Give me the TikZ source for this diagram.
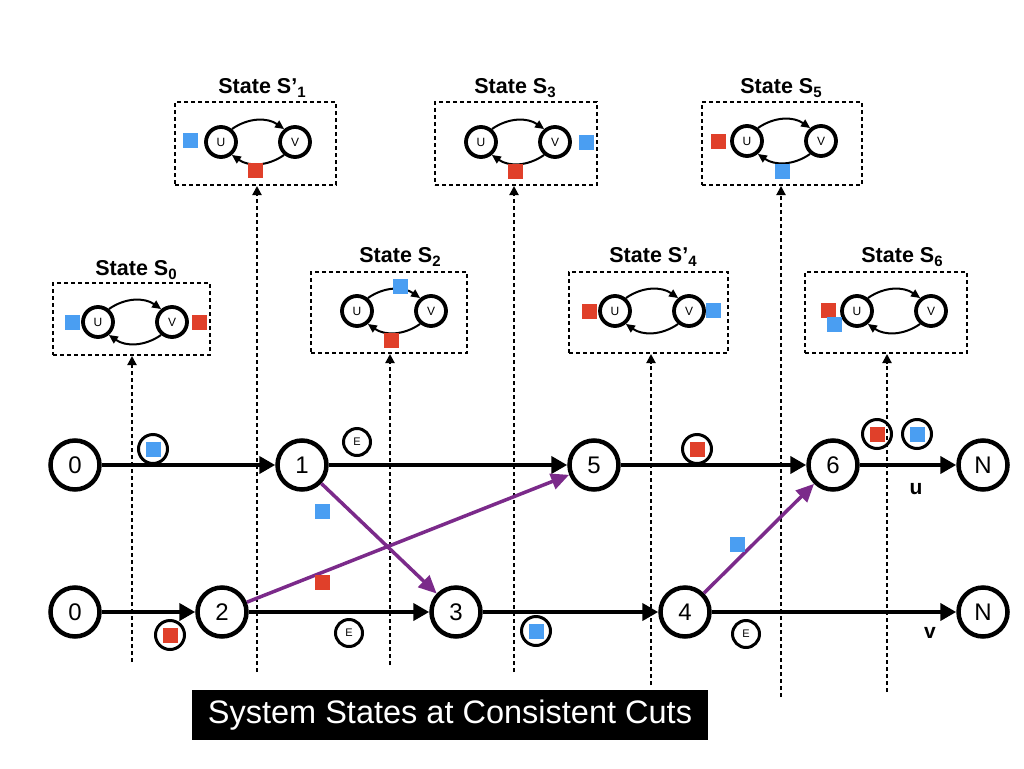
\documentclass[tikz,border=0pt]{standalone}
\usepackage{fontspec}
\setmainfont{Liberation Sans}
\usetikzlibrary{arrows.meta}
\definecolor{myblue}{HTML}{4A9EF2}
\definecolor{myred}{HTML}{E0402A}
\definecolor{mypurple}{HTML}{7B2A8A}
\tikzset{
  proc/.style={circle,draw,line width=4.5pt,minimum size=49pt,inner sep=0pt,font=\fontsize{24}{26}\selectfont},
  tl/.style={line width=4pt,-{Triangle[length=16pt,width=17pt]}},
  msgarrow/.style={draw=mypurple,line width=3.5pt,-{Triangle[length=18pt,width=16pt]}},
  mk/.style={circle,draw,line width=3pt,minimum size=29pt,inner sep=0pt},
  ecirc/.style={circle,draw,line width=3pt,minimum size=27pt,inner sep=0pt,font=\fontsize{11}{12}\selectfont},
  sqr/.style={fill=#1,minimum size=15pt,inner sep=0pt},
  sn/.style={circle,draw,line width=3.8pt,minimum size=30pt,inner sep=0pt,font=\fontsize{12}{13}\selectfont},
  sa/.style={line width=2pt,-{Triangle[length=9pt,width=8pt]}},
  stbox/.style={draw,line width=2pt,dash pattern=on 4pt off 3pt},
  cut/.style={line width=2pt,dash pattern=on 4pt off 3pt,-{Triangle[length=9pt,width=9pt]}},
  ttl/.style={font=\bfseries\fontsize{21.5}{24}\selectfont},
  lbl/.style={font=\bfseries\fontsize{21}{22}\selectfont}
}
\newcommand\sub[1]{\raisebox{-0.3ex}{\fontsize{15}{15}\selectfont #1}}
\newcommand\uvpair[3]{%
  \node[sn] (#1U) at (#2,#3) {U};
  \node[sn] (#1V) at ({#2+74},#3) {V};
  \draw[sa] (#1U.50) to[bend left=35] (#1V.130);
  \draw[sa] (#1V.230) to[bend left=35] (#1U.310);
}
\newcommand\mksq[1]{{\color{#1}\rule{15pt}{15pt}}}
\begin{document}
\begin{tikzpicture}[x=1pt,y=-1pt]
\useasboundingbox (0,0) rectangle (1024,768);
\fill[white] (0,0) rectangle (1024,768);

% ---- state boxes ----
\node[stbox,minimum width=157pt,minimum height=72pt] (b0) at (131.5,319) {};
\node[ttl] (t0) at (136,270) {State S\sub{0}};
\uvpair{s0}{98}{322}
\node[sqr=myblue] (s0b) at (72,322) {};
\node[sqr=myred] (s0r) at (199,322) {};

\node[stbox,minimum width=161pt,minimum height=83pt] (b1) at (255.5,143.5) {};
\node[ttl] (t1) at (262,88) {State S’\sub{1}};
\uvpair{s1}{221}{142}
\node[sqr=myblue] (s1b) at (190,140) {};
\node[sqr=myred] (s1r) at (255,170) {};

\node[stbox,minimum width=156pt,minimum height=81pt] (b2) at (389,312.5) {};
\node[ttl] (t2) at (400,257) {State S\sub{2}};
\uvpair{s2}{357}{311}
\node[sqr=myblue] (s2b) at (400,286) {};
\node[sqr=myred] (s2r) at (391,340) {};

\node[stbox,minimum width=162pt,minimum height=83pt] (b3) at (516,143.5) {};
\node[ttl] (t3) at (515,88) {State S\sub{3}};
\uvpair{s3}{481}{142}
\node[sqr=myblue] (s3b) at (586,142) {};
\node[sqr=myred] (s3r) at (515,171) {};

\node[stbox,minimum width=159pt,minimum height=81pt] (b4) at (648.5,312.5) {};
\node[ttl] (t4) at (653,257) {State S’\sub{4}};
\uvpair{s4}{615}{311}
\node[sqr=myred] (s4r) at (589,311) {};
\node[sqr=myblue] (s4b) at (713,310) {};

\node[stbox,minimum width=160pt,minimum height=83pt] (b5) at (782,143.5) {};
\node[ttl] (t5) at (781,88) {State S\sub{5}};
\uvpair{s5}{747}{141}
\node[sqr=myred] (s5r) at (718,141) {};
\node[sqr=myblue] (s5b) at (782,171) {};

\node[stbox,minimum width=162pt,minimum height=81pt] (b6) at (886,312.5) {};
\node[ttl] (t6) at (902,257) {State S\sub{6}};
\uvpair{s6}{857}{311}
\node[sqr=myred] (s6r) at (828,310) {};
\node[sqr=myblue] (s6b) at (834,324) {};

% ---- cut lines ----
\coordinate (c0) at (132,662);
\coordinate (c1) at (257,672);
\coordinate (c2) at (390,665);
\coordinate (c3) at (514,672);
\coordinate (c4) at (651,685);
\coordinate (c5) at (781,697);
\coordinate (c6) at (887,692);
\foreach \i in {0,...,6}{\draw[cut] (c\i) -- (c\i |- b\i.south);}

% ---- processes ----
\node[proc] (u0) at (75,465) {0};
\node[proc] (u1) at (302,465) {1};
\node[proc] (u5) at (594,465) {5};
\node[proc] (u6) at (833,465) {6};
\node[proc] (uN) at (983,465) {N};
\node[proc] (v0) at (75,612) {0};
\node[proc] (v2) at (222,612) {2};
\node[proc] (v3) at (456,612) {3};
\node[proc] (v4) at (685,612) {4};
\node[proc] (vN) at (983,612) {N};

\draw[tl] (u0) -- (u1);
\draw[tl] (u1) -- (u5);
\draw[tl] (u5) -- (u6);
\draw[tl] (u6) -- (uN);
\draw[tl] (v0) -- (v2);
\draw[tl] (v2) -- (v3);
\draw[tl] (v3) -- (v4);
\draw[tl] (v4) -- (vN);

\draw[msgarrow] (u1) -- (v3);
\draw[msgarrow] (v2) -- (u5);
\draw[msgarrow] (v4) -- (u6);

\node[lbl] (ul) at (916,489) {u};
\node[lbl] (vl) at (930,633) {v};

% ---- markers ----
\node[mk] (m1) at (153,449) {\mksq{myblue}};
\node[mk] (m2) at (170,635) {\mksq{myred}};
\node[mk] (m3) at (536,631) {\mksq{myblue}};
\node[mk] (m4) at (697,449) {\mksq{myred}};
\node[mk] (m5) at (877,434) {\mksq{myred}};
\node[mk] (m6) at (917,434) {\mksq{myblue}};
\node[ecirc] (e1) at (357,442) {E};
\node[ecirc] (e2) at (349,633) {E};
\node[ecirc] (e3) at (746,634) {E};
\node[sqr=myblue] (p1) at (322,511) {};
\node[sqr=myred] (p2) at (322,582) {};
\node[sqr=myblue] (p3) at (737,544) {};

% ---- banner ----
\node[fill=black,text=white,minimum width=516pt,minimum height=50pt,inner sep=0pt,font=\fontsize{32.5}{34}\selectfont] (ban) at (450,715) {System States at Consistent Cuts};
\end{tikzpicture}
\end{document}
